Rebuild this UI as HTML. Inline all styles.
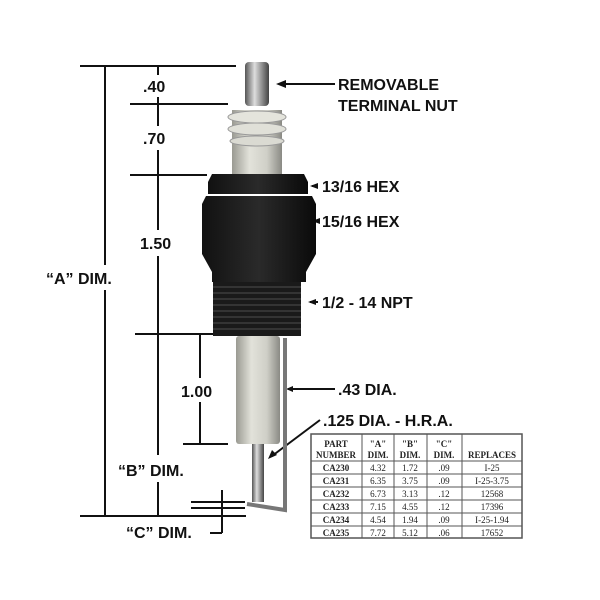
<!DOCTYPE html>
<html><head><style>body{margin:0;background:#fff}svg{display:block}</style></head><body>
<svg width="600" height="600" xmlns="http://www.w3.org/2000/svg" font-family="Liberation Sans, sans-serif">
<defs>
<linearGradient id="cer" x1="0" x2="1"><stop offset="0" stop-color="#9a9a92"/><stop offset=".35" stop-color="#e2e2da"/><stop offset=".7" stop-color="#cfcfc7"/><stop offset="1" stop-color="#8a8a84"/></linearGradient>
<linearGradient id="met" x1="0" x2="1"><stop offset="0" stop-color="#555"/><stop offset=".4" stop-color="#ddd"/><stop offset="1" stop-color="#444"/></linearGradient>
<linearGradient id="blk" x1="0" x2="1"><stop offset="0" stop-color="#111"/><stop offset=".5" stop-color="#2a2a2a"/><stop offset="1" stop-color="#0a0a0a"/></linearGradient>
</defs>
<g stroke="#111" stroke-width="2" fill="none">
<line x1="80" y1="66" x2="236" y2="66"/><line x1="105" y1="66" x2="105" y2="265"/><line x1="105" y1="290" x2="105" y2="516"/>
<line x1="80" y1="516" x2="246" y2="516"/>
<line x1="158" y1="66" x2="158" y2="75"/><line x1="158" y1="97" x2="158" y2="126"/><line x1="158" y1="150" x2="158" y2="230"/><line x1="158" y1="256" x2="158" y2="455"/><line x1="158" y1="482" x2="158" y2="516"/>
<line x1="130" y1="104" x2="228" y2="104"/><line x1="130" y1="175" x2="207" y2="175"/><line x1="135" y1="334" x2="215" y2="334"/>
<line x1="200" y1="334" x2="200" y2="378"/><line x1="200" y1="402" x2="200" y2="444"/><line x1="183" y1="444" x2="228" y2="444"/>
<line x1="191" y1="502" x2="245" y2="502"/><line x1="191" y1="508" x2="245" y2="508"/><line x1="222" y1="490" x2="222" y2="533"/><line x1="210" y1="533" x2="222" y2="533"/>
<line x1="335" y1="84" x2="280" y2="84"/><line x1="318" y1="186" x2="312" y2="186"/><line x1="320" y1="221" x2="314" y2="221"/><line x1="318" y1="302" x2="310" y2="302"/>
<line x1="335" y1="389" x2="288" y2="389"/><line x1="320" y1="420" x2="272" y2="456"/>
</g>
<g fill="#111"><path d="M276 84l10-4v8z"/><path d="M310 186l8-3v6z"/><path d="M312 221l8-3v6z"/><path d="M308 302l8-3v6z"/><path d="M286 389l7-3v6z"/><path d="M268 459l4-9 5 5z"/></g>
<rect x="245" y="62" width="24" height="44" rx="4" fill="url(#met)"/>
<rect x="232" y="110" width="50" height="66" fill="url(#cer)"/>
<ellipse cx="257" cy="117" rx="29" ry="6" fill="#e4e4dc" stroke="#999"/>
<ellipse cx="257" cy="129" rx="29" ry="6" fill="#e0e0d8" stroke="#999"/>
<ellipse cx="257" cy="141" rx="27" ry="5" fill="#dadad2" stroke="#999"/>
<path d="M212 174h92l4 8v12h-100v-12z" fill="url(#blk)"/>
<path d="M206 196h106l4 8v50l-10 18v10h-94v-10l-10-18v-50z" fill="url(#blk)"/>
<rect x="213" y="282" width="88" height="54" fill="#1a1a1a"/>
<g stroke="#444" stroke-width="1.2">
<line x1="213" y1="287" x2="301" y2="287"/><line x1="213" y1="293" x2="301" y2="293"/><line x1="213" y1="299" x2="301" y2="299"/><line x1="213" y1="305" x2="301" y2="305"/><line x1="213" y1="311" x2="301" y2="311"/><line x1="213" y1="317" x2="301" y2="317"/><line x1="213" y1="323" x2="301" y2="323"/><line x1="213" y1="329" x2="301" y2="329"/></g>
<rect x="236" y="336" width="44" height="108" rx="3" fill="url(#cer)"/>
<rect x="252" y="444" width="12" height="58" fill="url(#met)"/>
<path d="M285 338v172l-38-6" stroke="#777" stroke-width="4" fill="none"/>
<g font-weight="bold" font-size="16" fill="#111">
<text x="143" y="92">.40</text><text x="143" y="144">.70</text><text x="140" y="249">1.50</text>
<text x="46" y="284">“A” DIM.</text><text x="181" y="397">1.00</text><text x="118" y="476">“B” DIM.</text><text x="126" y="538">“C” DIM.</text>
<text x="338" y="90">REMOVABLE</text><text x="338" y="111">TERMINAL NUT</text>
<text x="322" y="192">13/16 HEX</text><text x="322" y="227">15/16 HEX</text><text x="322" y="308">1/2 - 14 NPT</text>
<text x="338" y="395">.43 DIA.</text><text x="323" y="426">.125 DIA. - H.R.A.</text>
</g>
<g stroke="#555" stroke-width="1" fill="none">
<rect x="311" y="434" width="211" height="104" stroke-width="1.5"/>
<line x1="311" y1="461" x2="522" y2="461"/><line x1="311" y1="474" x2="522" y2="474"/><line x1="311" y1="487" x2="522" y2="487"/><line x1="311" y1="500" x2="522" y2="500"/><line x1="311" y1="513" x2="522" y2="513"/><line x1="311" y1="526" x2="522" y2="526"/>
<line x1="362" y1="434" x2="362" y2="538"/><line x1="394" y1="434" x2="394" y2="538"/><line x1="427" y1="434" x2="427" y2="538"/><line x1="462" y1="434" x2="462" y2="538"/>
</g>
<g font-family="Liberation Serif, serif" font-size="9" fill="#222" text-anchor="middle">
<g font-weight="bold"><text x="336" y="447">PART</text><text x="336" y="458">NUMBER</text><text x="378" y="447">"A"</text><text x="378" y="458">DIM.</text><text x="410" y="447">"B"</text><text x="410" y="458">DIM.</text><text x="444" y="447">"C"</text><text x="444" y="458">DIM.</text><text x="492" y="458">REPLACES</text>
<text x="336" y="471">CA230</text><text x="336" y="484">CA231</text><text x="336" y="497">CA232</text><text x="336" y="510">CA233</text><text x="336" y="523">CA234</text><text x="336" y="536">CA235</text></g>
<text x="378" y="471">4.32</text><text x="410" y="471">1.72</text><text x="444" y="471">.09</text><text x="492" y="471">I-25</text>
<text x="378" y="484">6.35</text><text x="410" y="484">3.75</text><text x="444" y="484">.09</text><text x="492" y="484">I-25-3.75</text>
<text x="378" y="497">6.73</text><text x="410" y="497">3.13</text><text x="444" y="497">.12</text><text x="492" y="497">12568</text>
<text x="378" y="510">7.15</text><text x="410" y="510">4.55</text><text x="444" y="510">.12</text><text x="492" y="510">17396</text>
<text x="378" y="523">4.54</text><text x="410" y="523">1.94</text><text x="444" y="523">.09</text><text x="492" y="523">I-25-1.94</text>
<text x="378" y="536">7.72</text><text x="410" y="536">5.12</text><text x="444" y="536">.06</text><text x="492" y="536">17652</text>
</g>
</svg>
</body></html>
